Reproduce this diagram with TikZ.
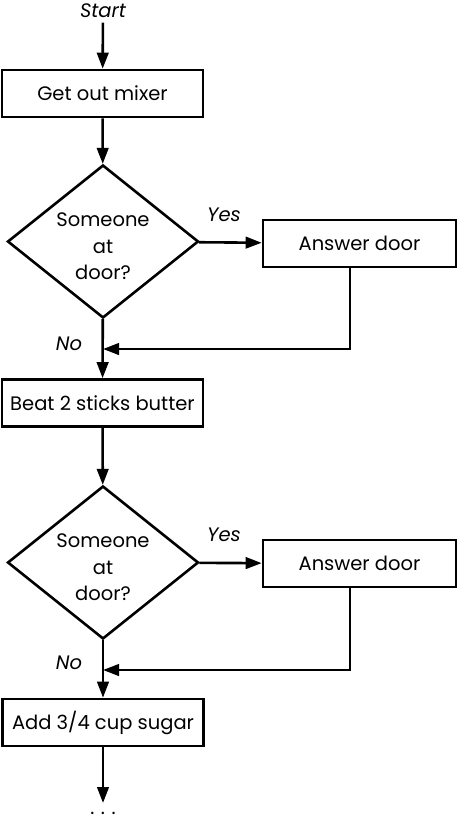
\documentclass[tikz,border=0pt]{standalone}
\usepackage{fontspec}
\setmainfont{Poppins}
\usetikzlibrary{shapes.geometric,arrows.meta}
\begin{document}
\begin{tikzpicture}[x=1pt,y=-1pt,
  line width=2.6pt,
  box/.style={draw, rectangle, minimum width=201pt, minimum height=47pt, inner sep=0pt, font=\fontsize{19.5}{22}\selectfont},
  dec/.style={draw, diamond, minimum width=191pt, minimum height=153pt, inner sep=0pt,
    label={[align=center, font=\fontsize{19.5}{26.5}\selectfont, yshift=-5pt]center:Someone\\at\\door?}},
  lbl/.style={font=\fontsize{19.5}{22}\selectfont\itshape},
  arr/.style={-{Triangle[length=16pt,width=11.5pt]}}]
\useasboundingbox (0,0) rectangle (457,822);
\node[lbl] (start) at (103,11) {Start};
\node[box] (b1) at (102.5,93.5) {Get out mixer};
\node[dec] (d1) at (103,241.5) {};
\node[box, minimum width=193pt] (a1) at (359.5,243.5) {Answer door};
\node[lbl] (y1) at (224,215) {Yes};
\node[lbl] (n1) at (69,344) {No};
\coordinate (m1) at (103,349);
\node[box] (b2) at (102.5,403) {Beat 2 sticks butter};
\node[dec] (d2) at (103,562.5) {};
\node[box, minimum width=193pt] (a2) at (359.5,563.5) {Answer door};
\node[lbl] (y2) at (224,535) {Yes};
\node[lbl] (n2) at (69,663) {No};
\coordinate (m2) at (103,670);
\node[box] (b3) at (103,722.5) {Add 3/4 cup sugar};
\coordinate (e) at (103,803);
\node[anchor=base, font=\fontsize{19.5}{22}\selectfont] (dots) at (103,814) {.\,\,.\,\,.};
\draw[arr] (start) -- (b1);
\draw[arr] (b1) -- (d1);
\draw[arr] (d1) -- (a1);
\draw[arr] (d1) -- (b2);
\draw[arr] ([xshift=-9.5pt]a1.south) |- (m1);
\draw[arr] (b2) -- (d2);
\draw[arr] (d2) -- (a2);
\draw[arr] (d2) -- (b3);
\draw[arr] ([xshift=-9.5pt]a2.south) |- (m2);
\draw[arr] (b3) -- (e);
\end{tikzpicture}
\end{document}
